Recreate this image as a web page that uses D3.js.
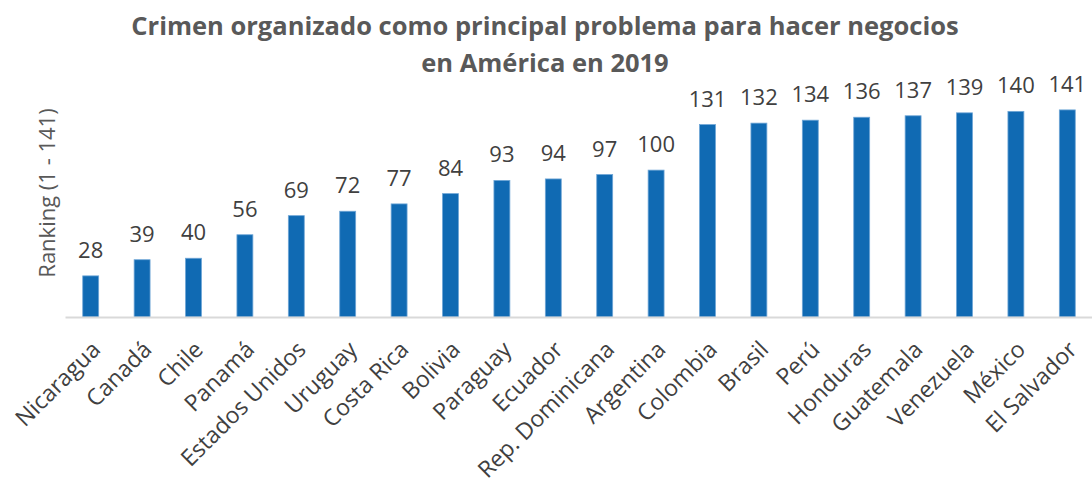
<!doctype html>
<html lang="es">
<head>
<meta charset="utf-8">
<title>Crimen organizado</title>
<script src="https://cdn.jsdelivr.net/npm/d3@7"></script>
<style>
  body { margin: 0; background: #fff; }
  text { font-family: "Open Sans", sans-serif; }
</style>
</head>
<body>
<div id="chart"></div>
<script>
const paises = ["Nicaragua", "Canadá", "Chile", "Panamá", "Estados Unidos", "Uruguay", "Costa Rica",
  "Bolivia", "Paraguay", "Ecuador", "Rep. Dominicana", "Argentina", "Colombia", "Brasil", "Perú",
  "Honduras", "Guatemala", "Venezuela", "México", "El Salvador"];
const ranking = [28, 39, 40, 56, 69, 72, 77, 84, 93, 94, 97, 100, 131, 132, 134, 136, 137, 139, 140, 141];
const titulo = ["Crimen organizado como principal problema para hacer negocios", "en América en 2019"];
const ejeY = "Ranking (1 - 141)";

const width = 1092, height = 479;
const svg = d3.select("#chart").append("svg")
    .attr("width", width)
    .attr("height", height);

const x = d3.scaleBand(paises, [65, 1093]).paddingInner(0.69).paddingOuter(0.345);
const y = d3.scaleLinear([0, 160], [317, 82]);

// title
svg.append("text")
    .attr("text-anchor", "middle")
    .attr("fill", "#595959")
    .attr("font-weight", "bold")
    .attr("font-size", 25.5)
  .selectAll("tspan")
  .data(titulo)
  .join("tspan")
    .attr("x", 545)
    .attr("y", (d, i) => 35 + i * 37)
    .text(d => d);

// bars
svg.append("g")
  .selectAll("rect")
  .data(paises)
  .join("rect")
    .attr("x", d => x(d))
    .attr("y", (d, i) => y(ranking[i]))
    .attr("width", x.bandwidth())
    .attr("height", (d, i) => y(0) - y(ranking[i]))
    .attr("fill", "#106ab3")
    .attr("stroke", "#6fa6d6")
    .attr("stroke-width", 0.8);

// value labels
svg.append("g")
    .attr("text-anchor", "middle")
    .attr("fill", "#404040")
    .attr("font-size", 22)
  .selectAll("text")
  .data(paises)
  .join("text")
    .attr("x", d => x(d) + x.bandwidth() / 2)
    .attr("y", (d, i) => y(ranking[i]) - 18)
    .text((d, i) => ranking[i]);

// x axis
svg.append("g")
    .attr("transform", `translate(0,${y(0)})`)
    .call(d3.axisBottom(x).tickSize(0).tickPadding(0))
    .call(g => g.select(".domain").attr("stroke", "#d9d9d9").attr("stroke-width", 2))
    .call(g => g.selectAll(".tick text")
        .attr("fill", "#404040")
        .attr("font-size", 23)
        .attr("font-family", "Open Sans, sans-serif")
        .attr("text-anchor", "end")
        .attr("dy", 0)
        .attr("transform", "translate(11,34) rotate(-45)"));

// y axis label
svg.append("text")
    .attr("transform", "translate(55,193) rotate(-90)")
    .attr("text-anchor", "middle")
    .attr("fill", "#595959")
    .attr("font-size", 22)
    .text(ejeY);
</script>
</body>
</html>
